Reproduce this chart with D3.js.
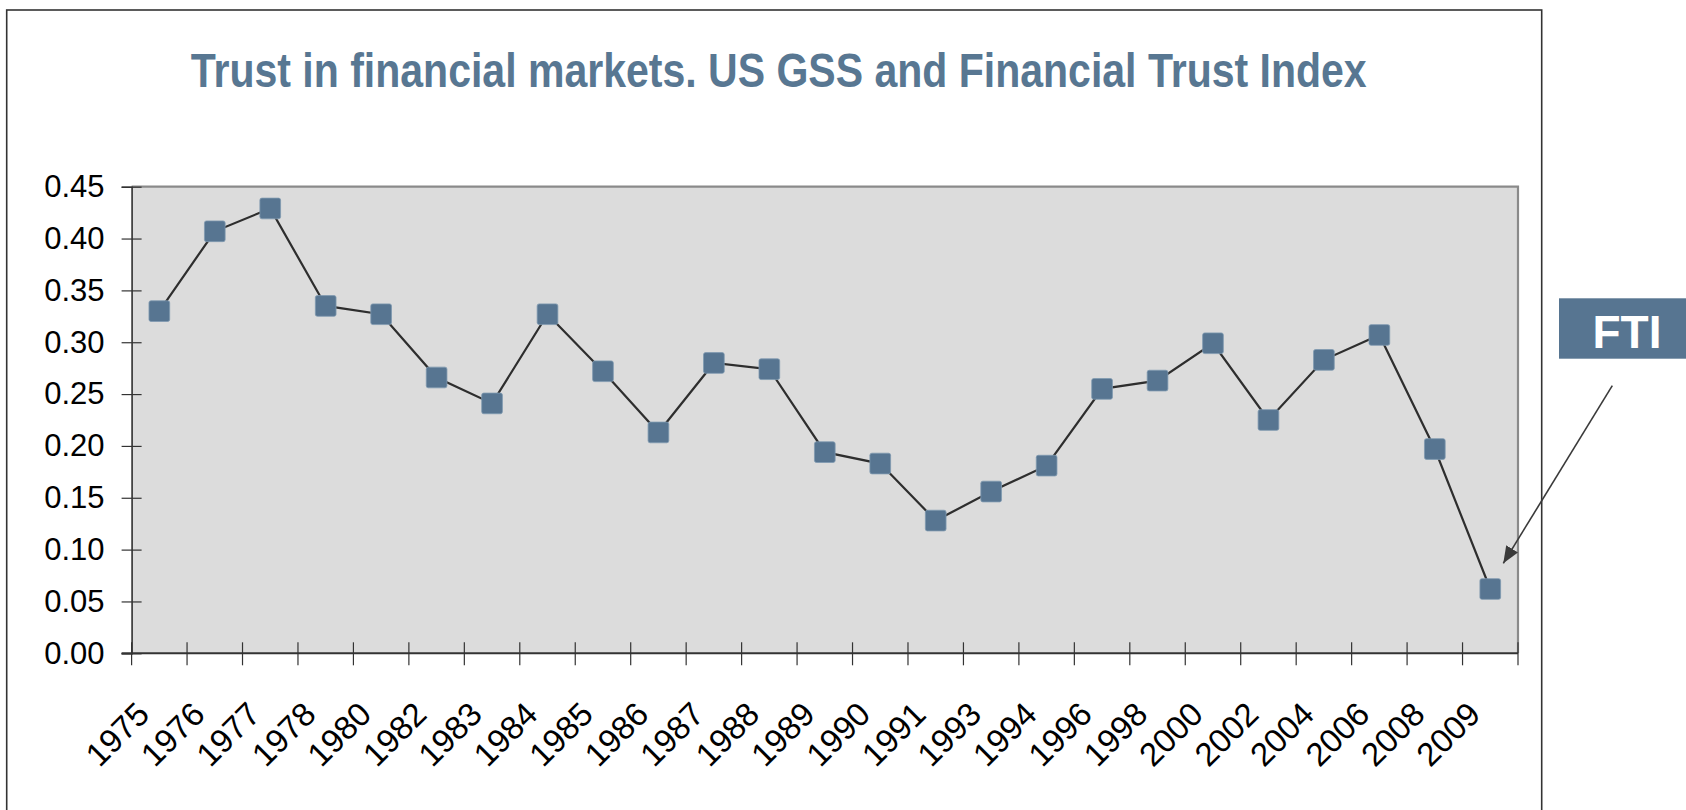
<!DOCTYPE html>
<html>
<head>
<meta charset="utf-8">
<script src="https://cdn.jsdelivr.net/npm/d3@7"></script>
<style>
  body { margin: 0; background: #fff; }
  svg { display: block; font-family: 'Liberation Sans', Arial, sans-serif; }
</style>
</head>
<body>
<div id="chart"></div>
<script>
// data
const years = ['1975', '1976', '1977', '1978', '1980', '1982', '1983', '1984', '1985', '1986', '1987', '1988', '1989',
    '1990', '1991', '1993', '1994', '1996', '1998', '2000', '2002', '2004', '2006', '2008', '2009'];
const trust = [0.330, 0.407, 0.429, 0.335, 0.327, 0.266, 0.241, 0.327, 0.272, 0.213, 0.280, 0.274, 0.194,
    0.183, 0.128, 0.156, 0.181, 0.255, 0.263, 0.299, 0.225, 0.283, 0.307, 0.197, 0.062];
const yTicks = [0, 0.05, 0.10, 0.15, 0.20, 0.25, 0.30, 0.35, 0.40, 0.45];
const titleText = 'Trust in financial markets. US GSS and Financial Trust Index';
const noteText = 'FTI';

// constants for svg
const fullWidth = 1686, fullHeight = 810;
const margin = { top: 186.7, left: 131.6 };
const width = 1386.4;
const height = 466.6;
const blue = '#577591';

const root = d3.select('#chart')
    .append('svg')
    .attr('width', fullWidth)
    .attr('height', fullHeight);

// outer frame of the chart object
root.append('rect')
    .attr('x', 6.7)
    .attr('y', 10)
    .attr('width', 1535)
    .attr('height', 840)
    .attr('fill', '#fff')
    .attr('stroke', '#333')
    .attr('stroke-width', 1.6);

// title
root.append('text')
    .attr('x', 778.7)
    .attr('y', 86.7)
    .attr('text-anchor', 'middle')
    .attr('textLength', 1176)
    .attr('lengthAdjust', 'spacingAndGlyphs')
    .style('font-size', '48px')
    .style('font-weight', 'bold')
    .style('fill', '#587792')
    .text(titleText);

const svg = root.append('g')
    .attr('transform', 'translate(' + margin.left + ',' + margin.top + ')');

// scales
const x = d3.scaleBand()
    .domain(years)
    .range([0, width])
    .padding(0);

const y = d3.scaleLinear()
    .domain([0, 0.45])
    .range([height, 0]);

// plot area
svg.append('rect')
    .attr('width', width)
    .attr('height', height)
    .attr('fill', '#dcdcdc');

svg.append('path')
    .attr('d', 'M0,0H' + width + 'V' + height)
    .attr('fill', 'none')
    .attr('stroke', '#8a8a8a')
    .attr('stroke-width', 2.2);

// Y axis
const yAxis = svg.append('g')
    .call(d3.axisLeft(y)
        .tickValues(yTicks)
        .tickFormat(d3.format('.2f'))
        .tickSize(10)
        .tickPadding(17))
    .attr('class', 'y-axis');
yAxis.select('.domain').attr('stroke', '#333').attr('stroke-width', 1.6);
yAxis.selectAll('.tick line').attr('x1', 10).attr('stroke', '#333').attr('stroke-width', 1.2);
yAxis.selectAll('.tick text')
    .style('font-size', '31px')
    .style('font-family', "'Liberation Sans', Arial, sans-serif")
    .attr('fill', '#000');

// X axis: line plus ticks on the band edges
const xAxis = svg.append('g')
    .attr('transform', 'translate(0,' + height + ')')
    .attr('class', 'x-axis');
xAxis.append('line')
    .attr('x1', -10)
    .attr('x2', width)
    .attr('stroke', '#333')
    .attr('stroke-width', 2);
const edges = years.map(d => x(d)).concat([x.range()[1]]);
xAxis.selectAll('.edge')
    .data(edges)
    .join('line')
    .attr('class', 'edge')
    .attr('x1', d => d)
    .attr('x2', d => d)
    .attr('y1', -11)
    .attr('y2', 12)
    .attr('stroke', '#333')
    .attr('stroke-width', 1.2);
xAxis.selectAll('.label')
    .data(years)
    .join('text')
    .attr('class', 'label')
    .attr('transform', d => 'translate(' + (x(d) + x.bandwidth() / 2 - 8) + ',63) rotate(-45)')
    .attr('text-anchor', 'end')
    .style('font-size', '33px')
    .attr('fill', '#000')
    .text(d => d);

// line
const points = years.map((d, i) => [x(d) + x.bandwidth() / 2, y(trust[i])]);
svg.append('path')
    .datum(points)
    .attr('fill', 'none')
    .attr('stroke', '#2e2e2e')
    .attr('stroke-width', 2.2)
    .attr('d', d3.line());

// markers
const size = 20.7;
svg.selectAll('.marker')
    .data(points)
    .join('rect')
    .attr('class', 'marker')
    .attr('x', d => d[0] - size / 2)
    .attr('y', d => d[1] - size / 2)
    .attr('width', size)
    .attr('height', size)
    .attr('rx', 2)
    .attr('fill', blue)
    .attr('stroke', '#7f99b0')
    .attr('stroke-width', 0.8);

// FTI note box with arrow
root.append('rect')
    .attr('x', 1559)
    .attr('y', 298.3)
    .attr('width', 127)
    .attr('height', 60.4)
    .attr('fill', blue);
root.append('text')
    .attr('x', 1627)
    .attr('y', 347.7)
    .attr('text-anchor', 'middle')
    .style('font-size', '46px')
    .style('font-weight', 'bold')
    .attr('fill', '#fff')
    .text(noteText);

root.append('defs').append('marker')
    .attr('id', 'arrow')
    .attr('markerUnits', 'userSpaceOnUse')
    .attr('markerWidth', 18)
    .attr('markerHeight', 14)
    .attr('refX', 17)
    .attr('refY', 7)
    .attr('orient', 'auto')
    .append('path')
    .attr('d', 'M0,0L17,7L0,14Z')
    .attr('fill', '#3a3a3a');

root.append('line')
    .attr('x1', 1612.3)
    .attr('y1', 385.7)
    .attr('x2', 1503.3)
    .attr('y2', 563.3)
    .attr('stroke', '#3a3a3a')
    .attr('stroke-width', 1.6)
    .attr('marker-end', 'url(#arrow)');
</script>
</body>
</html>
